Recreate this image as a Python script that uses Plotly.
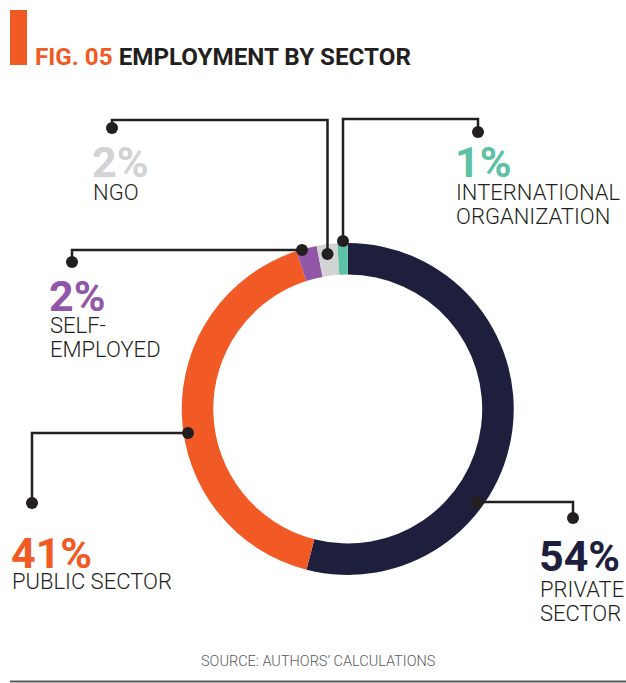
import plotly.graph_objects as go

W, H = 626, 683

# ---- data ----
sectors = ["Private sector", "Public sector", "Self-employed", "NGO", "International organization"]
shares = [54, 41, 2, 2, 1]
slice_colors = ["#1E1F3D", "#F15A24", "#9256A8", "#D1D3D4", "#5DC2A5"]
label_lines = [["PRIVATE", "SECTOR"], ["PUBLIC SECTOR"], ["SELF-", "EMPLOYED"], ["NGO"],
               ["INTERNATIONAL", "ORGANIZATION"]]
title_prefix = "FIG. 05"
title_main = "EMPLOYMENT BY SECTOR"
source_text = "SOURCE: AUTHORS\u2019 CALCULATIONS"

# ---- layout helpers (pixel -> paper) ----
def px(x):
    return x / W

def py(y):
    return 1 - y / H

INK = "#231F20"
LBL_FONT = "Roboto"

# label anchor positions (left x, pct cap-centre y, first text line cap-centre y)
label_pos = [
    (540, 554.5, 588.5),   # private
    (12, 551.5, 580.0),    # public
    (50, 294.5, 324.5),    # self-employed
    (93, 161.0, 191.5),    # NGO
    (456, 161.0, 191.5),   # international
]
LINE_STEP = 24

# leader lines (pixel polylines) and dots
leaders = [
    [(477, 502), (573, 502), (573, 518)],
    [(188, 433), (32, 433), (32, 503)],
    [(302, 250), (72, 250), (72, 262)],
    [(327.5, 254), (327.5, 120), (112, 120), (112, 128)],
    [(343, 241), (343, 119), (478, 119), (478, 132)],
]

fig = go.Figure()

cx, cy, R = 347.75, 409.0, 166.0
fig.add_trace(go.Pie(
    labels=sectors, values=shares, sort=False, direction="clockwise", rotation=0,
    hole=0.81, textinfo="none", hoverinfo="label+percent",
    marker=dict(colors=slice_colors, line=dict(width=0)),
    domain=dict(x=[px(cx - R), px(cx + R)], y=[py(cy + R), py(cy - R)]),
    showlegend=False,
))

shapes = []
# orange accent bar
shapes.append(dict(type="rect", xref="paper", yref="paper", x0=px(10), x1=px(27), y0=py(65), y1=py(10),
                   fillcolor="#F15A24", line=dict(width=0)))
# bottom rule
shapes.append(dict(type="line", xref="paper", yref="paper", x0=px(10), x1=px(626), y0=py(681.5), y1=py(681.5),
                   line=dict(color="#58595B", width=2)))

for pts in leaders:
    path = "M " + " L ".join(f"{px(x):.5f},{py(y):.5f}" for x, y in pts)
    shapes.append(dict(type="path", xref="paper", yref="paper", path=path,
                       line=dict(color=INK, width=2.5), layer="above"))
    for (x, y) in (pts[0], pts[-1]):
        r = 6
        shapes.append(dict(type="circle", xref="paper", yref="paper",
                           x0=px(x - r), x1=px(x + r), y0=py(y + r), y1=py(y - r),
                           fillcolor=INK, line=dict(width=0), layer="above"))

annotations = []
# title
annotations.append(dict(
    xref="paper", yref="paper", x=px(33), y=py(57), xanchor="left", yanchor="middle",
    text=f"<span style='color:#F15A24'>{title_prefix}</span> {title_main}", showarrow=False,
    font=dict(family="Roboto", size=24.2, color=INK, weight=700)))
# source
annotations.append(dict(
    xref="paper", yref="paper", x=px(318), y=py(661), xanchor="center", yanchor="middle",
    text=source_text, showarrow=False, font=dict(family=LBL_FONT, size=14.5, color="#58595B", weight=300)))

for share, col, lines, (lx, pcy, ly) in zip(shares, slice_colors, label_lines, label_pos):
    annotations.append(dict(
        xref="paper", yref="paper", x=px(lx - 3), y=py(pcy + 1), xanchor="left", yanchor="middle",
        text=f"{share}%", showarrow=False,
        font=dict(family="Roboto", size=43, color=col, weight=700)))
    for i, t in enumerate(lines):
        annotations.append(dict(
            xref="paper", yref="paper", x=px(lx - 2), y=py(ly + i * LINE_STEP + 1), xanchor="left",
            yanchor="middle", text=t, showarrow=False,
            font=dict(family=LBL_FONT, size=22, color=INK, weight=300)))

fig.update_layout(
    width=W, height=H, margin=dict(l=0, r=0, t=0, b=0),
    paper_bgcolor="white", plot_bgcolor="white",
    shapes=shapes, annotations=annotations,
)

fig.write_html("out.html", config={"displayModeBar": False},
               post_script="document.body.style.margin='0';document.body.style.overflow='hidden';")
